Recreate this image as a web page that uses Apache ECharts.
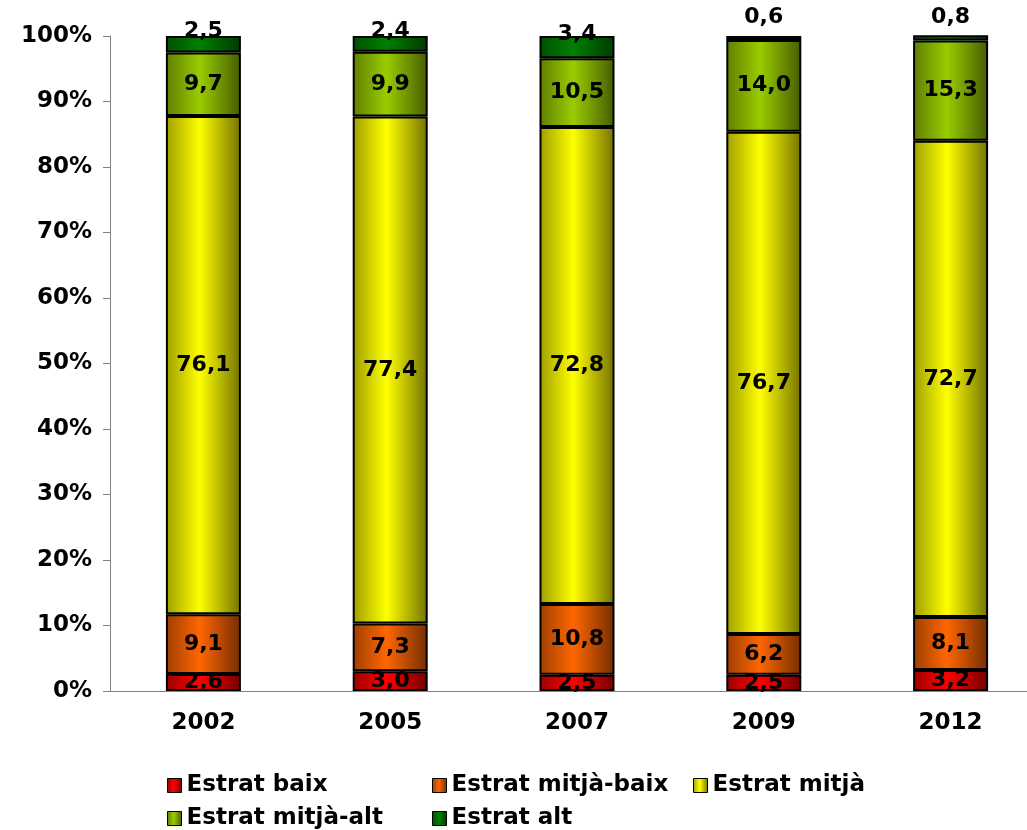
<!DOCTYPE html>
<html>
<head>
<meta charset="utf-8">
<script src="https://cdn.jsdelivr.net/npm/echarts@6/dist/echarts.min.js"></script>
<style>html,body{margin:0;padding:0;background:#fff}#c{width:1027px;height:830px}</style>
</head>
<body>
<div id="c"></div>
<script>
const categories = ['2002', '2005', '2007', '2009', '2012'];
const seriesNames = ['Estrat baix', 'Estrat mitjà-baix', 'Estrat mitjà', 'Estrat mitjà-alt', 'Estrat alt'];
const estratBaix = [2.6, 3.0, 2.5, 2.5, 3.2];
const estratMitjaBaix = [9.1, 7.3, 10.8, 6.2, 8.1];
const estratMitja = [76.1, 77.4, 72.8, 76.7, 72.7];
const estratMitjaAlt = [9.7, 9.9, 10.5, 14.0, 15.3];
const estratAlt = [2.5, 2.4, 3.4, 0.6, 0.8];
const yTicks = [0, 10, 20, 30, 40, 50, 60, 70, 80, 90, 100];

const baseColors = ['#ff0000', '#ff6600', '#ffff00', '#99cc00', '#008000'];
const values = [estratBaix, estratMitjaBaix, estratMitja, estratMitjaAlt, estratAlt];
const FONT = 'DejaVu Sans';

function shade(hex, f) {
  const n = parseInt(hex.slice(1), 16);
  const r = Math.round(((n >> 16) & 255) * f), g = Math.round(((n >> 8) & 255) * f), b = Math.round((n & 255) * f);
  return 'rgb(' + r + ',' + g + ',' + b + ')';
}
function grad(hex) {
  return new echarts.graphic.LinearGradient(0, 0, 1, 0, [
    {offset: 0, color: shade(hex, 0.62)},
    {offset: 0.45, color: hex},
    {offset: 1, color: shade(hex, 0.45)}
  ]);
}

const series = seriesNames.map((name, i) => ({
  name: name,
  type: 'bar',
  stack: 'total',
  barWidth: 75,
  itemStyle: {color: grad(baseColors[i]), borderColor: '#000', borderWidth: 2},
  label: {
    show: true,
    position: 'inside',
    color: '#000',
    fontFamily: FONT,
    fontWeight: 'bold',
    fontSize: 22,
    formatter: p => p.value.toFixed(1).replace('.', ',')
  },
  data: values[i].map(v => {
    if (i === 4) {
      return {value: v, label: {offset: [0, v < 1 ? -21 : -13]}};
    }
    return v;
  })
}));

const legendPos = [[167, 774], [432, 774], [693, 774], [167, 807], [432, 807]];
const legends = seriesNames.map((n, i) => ({
  data: [n],
  left: legendPos[i][0],
  top: legendPos[i][1],
  padding: 0,
  itemWidth: 14,
  itemHeight: 14,
  icon: 'rect',
  selectedMode: false,
  itemStyle: {borderColor: '#000', borderWidth: 1},
  textStyle: {fontFamily: FONT, fontWeight: 'bold', fontSize: 23, color: '#000'}
}));

const chart = echarts.init(document.getElementById('c'), null, {renderer: 'canvas'});
chart.setOption({
  animation: false,
  backgroundColor: '#fff',
  legend: legends,
  grid: {left: 110, width: 934, top: 36, height: 655, containLabel: false, outerBoundsMode: 'none'},
  xAxis: {
    type: 'category',
    data: categories,
    axisLine: {lineStyle: {color: '#808080', width: 1}},
    axisTick: {show: false},
    axisLabel: {color: '#000', fontFamily: FONT, fontWeight: 'bold', fontSize: 23, margin: 21}
  },
  yAxis: {
    type: 'value',
    min: yTicks[0],
    max: yTicks[yTicks.length - 1],
    interval: 10,
    axisLine: {show: true, lineStyle: {color: '#808080', width: 1}},
    axisTick: {show: true, length: 7, lineStyle: {color: '#808080'}},
    splitLine: {show: false},
    axisLabel: {color: '#000', fontFamily: FONT, fontWeight: 'bold', fontSize: 23, margin: 18, formatter: '{value}%'}
  },
  series: series
});
</script>
</body>
</html>
